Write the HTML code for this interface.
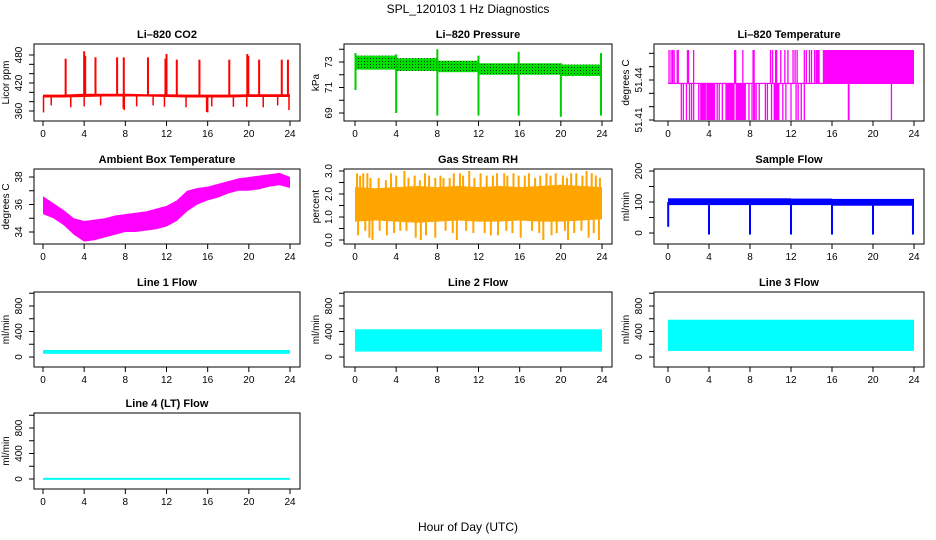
<!DOCTYPE html>
<html><head><meta charset="utf-8"><style>
html,body{margin:0;padding:0;background:#fff;}
svg{display:block;font-family:"Liberation Sans",sans-serif;}
</style></head><body>
<svg id="c" width="936" height="540" viewBox="0 0 936 540">
<defs>
<pattern id="pgreen" width="3" height="3" patternUnits="userSpaceOnUse"><rect width="3" height="3" fill="#00dd00"/><rect x="1" y="1" width="1" height="1" fill="#003300"/></pattern>
</defs>
<text x="468" y="13" text-anchor="middle" font-size="12">SPL_120103  1 Hz Diagnostics</text>
<text x="468" y="531" text-anchor="middle" font-size="12">Hour of Day (UTC)</text>
</svg>
<script>
// ---- data ----
const xTicks=[0,4,8,12,16,20,24];
const co2BaseT=[0,2,4,6,8,10,12,14,16,18,20,22,24];
const co2BaseLo=[389,389,390,391,391,391,390,389,389,389,390,390,390];
const co2BaseHi=[395,395,397,397,397,396,396,395,395,395,396,396,396];
const co2SpikeT=[2.2,4.0,4.1,5.1,7.2,7.85,10.2,11.9,12.0,13.0,15.2,18.1,19.85,19.95,21.0,23.2,23.8];
const co2SpikeV=[472,488,478,475,475,475,475,472,482,470,470,470,482,478,470,470,470];
const co2DipT=[0.05,0.8,2.7,4.0,5.6,7.8,7.9,9.1,10.7,11.8,13.9,15.9,16.0,16.4,18.5,19.8,21.4,22.8,23.9];
const co2DipV=[357,372,368,370,372,365,362,370,372,369,368,358,357,370,369,369,368,372,362];

const presPeriodT=[0,4,8,12,16,20,24];
const presLo=[72.4,72.3,72.2,72.0,72.0,71.9];
const presHi=[73.5,73.3,73.1,72.9,72.9,72.8];
const presDropT=[0.05,4.0,8.0,12.0,15.9,20.0,23.9];
const presDropV=[70.8,69.0,68.8,68.8,68.8,68.7,68.8];
const presUpV=[73.7,73.6,74.0,73.5,73.8,72.9,73.7];

const tempLow=51.41, tempMid=51.4375, tempHigh=51.4625;
const tempUpT=[0.1,0.3,0.45,0.6,0.9,1.0,1.9,2.0,2.5,6.5,6.6,7.3,8.3,8.4,10.0,10.2,10.5,10.6,11.0,11.4,11.7,12.2,12.4,12.6,13.3,13.5,13.8,14.0,14.3];
const tempDownT=[1.3,1.5,1.8,2.1,2.3,2.5,3.0,3.2,3.5,3.8,4.2,4.5,4.8,5.0,5.3,7.9,8.2,8.6,8.9,9.5,9.7,10.1,10.4,10.8,11.2,11.5,12.0,12.5,12.7,13.0,13.3,17.6,17.65,21.8];
const tempLowBlocks=[[3.2,3.7],[3.8,4.6],[5.6,6.5],[6.6,7.6],[8.3,8.5],[10.3,10.8]];
const tempHighBlocks=[[14.4,14.8],[15.1,24.0]];

const ambT=[0,1,2,3,4,5,6,7,8,9,10,11,12,13,14,15,16,17,18,19,20,21,22,23,24];
const ambLo=[35.3,35.0,34.5,33.8,33.3,33.4,33.6,33.8,34.0,34.0,34.1,34.2,34.4,34.8,35.5,36.0,36.3,36.5,36.8,37.0,37.0,37.1,37.3,37.4,37.2];
const ambHi=[36.6,36.1,35.6,35.0,34.8,34.9,35.0,35.2,35.3,35.4,35.5,35.7,35.9,36.3,37.0,37.2,37.3,37.5,37.7,37.9,38.0,38.1,38.2,38.3,38.0];

const rhT=[0,2,4,6,8,10,12,14,16,18,20,22,24];
const rhLo=[0.8,0.85,0.8,0.75,0.8,0.85,0.8,0.8,0.85,0.8,0.8,0.85,0.9];
const rhHi=[2.3,2.25,2.3,2.35,2.3,2.35,2.3,2.35,2.3,2.35,2.4,2.35,2.3];
const rhUpT=[0.2,0.5,0.8,1.2,1.5,2.3,3.0,3.5,4.0,4.8,5.2,5.8,6.3,6.8,7.2,7.8,8.3,8.6,9.2,9.6,10.2,10.5,11.1,11.6,12.2,12.8,13.4,13.8,14.5,14.8,15.4,15.9,16.5,16.9,17.5,18.0,18.6,19.0,19.5,20.2,20.6,21.0,21.5,22.1,22.5,23.0,23.4,23.8];
const rhUpV=[2.9,2.8,2.9,2.9,2.7,2.7,2.6,2.9,2.8,3.0,2.7,2.8,2.6,2.9,2.8,2.7,2.8,2.7,2.7,2.9,2.9,2.8,3.0,2.7,2.9,2.8,2.8,2.9,2.9,2.8,2.9,2.8,2.8,2.9,2.7,2.8,2.9,2.8,2.9,2.8,2.7,2.9,2.9,2.8,3.0,2.9,2.8,2.7];
const rhDnT=[0.3,1.0,1.4,1.7,2.4,3.1,3.8,4.4,5.0,5.9,6.4,6.9,7.8,8.8,9.5,9.9,10.8,11.5,12.6,13.2,13.9,14.7,15.3,16.1,17.2,17.9,18.3,19.1,19.6,20.4,20.7,21.3,22.0,22.7,23.2,23.7];
const rhDnV=[0.2,0.4,0.1,0.0,0.4,0.2,0.3,0.4,0.4,0.1,0.0,0.2,0.1,0.4,0.3,0.0,0.4,0.3,0.3,0.2,0.2,0.4,0.3,0.1,0.4,0.3,0.0,0.2,0.3,0.4,0.0,0.3,0.4,0.1,0.3,0.0];

const sfLo=[90,90,90,90,88,88,88];
const sfHi=[112,112,112,111,110,110,110];
const sfDropT=[0.02,4.0,8.0,12.0,16.0,20.0,23.9];
const sfDropV=[20,-5,-5,-5,-5,-5,-5];

const l1Lo=50, l1Hi=110;
const l2Lo=85, l2Hi=435;
const l3Lo=95, l3Hi=585;
const l4Lo=0, l4Hi=18;

// ---- helpers ----
const NS="http://www.w3.org/2000/svg";
const svg=document.getElementById('c');
function mk(tag,attrs,parent){const e=document.createElementNS(NS,tag);for(const k in attrs)e.setAttribute(k,attrs[k]);(parent||svg).appendChild(e);return e;}
function lin(v1,p1,v2,p2){return v=>p1+(v-v1)*(p2-p1)/(v2-v1);}
const cols=[{bx0:34,bx1:300,x0:43,x24:290},{bx0:344,bx1:612,x0:355,x24:602},{bx0:654,bx1:924,x0:668,x24:914}];
const rows=[{by0:44,by1:121},{by0:169,by1:244},{by0:292,by1:367},{by0:413,by1:489}];

function panel(name,title,ytitle,c,r,ya,yticks,ylabels,fmt){
  const C=cols[c],R=rows[r];
  const g=mk('g',{});
  
  
  const xs=lin(0,C.x0,24,C.x24);
  const t=mk('text',{x:(C.bx0+C.bx1)/2,y:R.by0-6,'text-anchor':'middle','font-size':'11','font-weight':'bold'},g);
  t.textContent=title;
  
  
  const plot=mk('g',{},g);
  
  
  const b=mk('rect',{x:C.bx0,y:R.by0,width:C.bx1-C.bx0,height:R.by1-R.by0,fill:'none',stroke:'#000','stroke-width':1},g);
  
  
  const xa=mk('g',{},g);
  
  
  xTicks.forEach(v=>{
    mk('line',{x1:xs(v),x2:xs(v),y1:R.by1,y2:R.by1+5,stroke:'#000'},xa);
    const tl=mk('text',{x:xs(v),y:R.by1+16,'text-anchor':'middle','font-size':'10'},xa);
    tl.textContent=v;
    
    
  });
  const yg=mk('g',{},g);
  
  
  yticks.forEach(v=>{mk('line',{x1:C.bx0-5,x2:C.bx0,y1:ya(v),y2:ya(v),stroke:'#000'},yg);});
  ylabels.forEach(v=>{
    const yy=ya(v),xx=C.bx0-12;
    const tl=mk('text',{x:xx,y:yy,'text-anchor':'middle','font-size':'10',transform:`rotate(-90 ${xx} ${yy})`},yg);
    tl.textContent=fmt?fmt(v):v;
    
    
  });
  const yx=C.bx0-25,ym=(R.by0+R.by1)/2;
  const yt=mk('text',{x:yx,y:ym,'text-anchor':'middle','font-size':'10',transform:`rotate(-90 ${yx} ${ym})`},g);
  yt.textContent=ytitle;
  
  
  g.insertBefore(b,plot.nextSibling);
  return {plot,xs,ya};
}
function vbar(p,x,y1,y2,fill,w){const a=Math.min(y1,y2),h=Math.abs(y2-y1);return mk('rect',{x:x-(w||1.5)/2,y:a,width:w||1.5,height:Math.max(h,1),fill:fill},p);}
function band(p,xs,ya,T,lo,hi,fill){
  let pts=T.map((t,i)=>xs(t)+','+ya(hi[i]));
  for(let i=T.length-1;i>=0;i--)pts.push(xs(T[i])+','+ya(lo[i]));
  return mk('polygon',{points:pts.join(' '),fill:fill},p);
}
function range(a,b,s){const o=[];for(let v=a;v<=b+1e-9;v+=s)o.push(+v.toFixed(4));return o;}

// ---- CO2 ----
{const P=panel('co2','Li\u2013820 CO2','Licor ppm',0,0,lin(480,55,360,111),range(360,480,20),[360,420,480]);
 band(P.plot,P.xs,P.ya,co2BaseT,co2BaseLo,co2BaseHi,'#ff0000');
 co2SpikeT.forEach((t,i)=>{const e=vbar(P.plot,P.xs(t),P.ya(392),P.ya(co2SpikeV[i]),'#ff0000',2);});
 co2DipT.forEach((t,i)=>{const e=vbar(P.plot,P.xs(t),P.ya(392),P.ya(co2DipV[i]),'#ff0000',1.5);});}

// ---- Pressure ----
{const P=panel('pressure','Li\u2013820 Pressure','kPa',1,0,lin(73,62,69,113),range(69,74,1),[69,71,73]);
 for(let i=0;i<presLo.length;i++){const x1=P.xs(presPeriodT[i]),x2=P.xs(presPeriodT[i+1]);
   const e=mk('rect',{x:x1,y:P.ya(presHi[i]),width:x2-x1,height:P.ya(presLo[i])-P.ya(presHi[i]),fill:'url(#pgreen)'},P.plot);
   }
 presDropT.forEach((t,i)=>{const e=vbar(P.plot,P.xs(t),P.ya(presUpV[i]),P.ya(presDropV[i]),'#00cc00',2);});}

// ---- Li-820 Temperature ----
{const P=panel('li820-temp','Li\u2013820 Temperature','degrees C',2,0,lin(51.41,120,51.44,80),range(51.41,51.46,0.01),[51.41,51.44],v=>v.toFixed(2));
 const c='#ff00ff';
 mk('rect',{x:P.xs(0),y:P.ya(tempMid)-0.5,width:P.xs(24)-P.xs(0),height:1.2,fill:c},P.plot);
 tempHighBlocks.forEach(b=>{const e=mk('rect',{x:P.xs(b[0]),y:P.ya(tempHigh),width:P.xs(b[1])-P.xs(b[0]),height:P.ya(tempMid)-P.ya(tempHigh),fill:c},P.plot);});
 tempLowBlocks.forEach(b=>{const e=mk('rect',{x:P.xs(b[0]),y:P.ya(tempMid),width:P.xs(b[1])-P.xs(b[0]),height:P.ya(tempLow)-P.ya(tempMid),fill:c},P.plot);});
 tempUpT.forEach(t=>{const e=vbar(P.plot,P.xs(t),P.ya(tempMid),P.ya(tempHigh),c,1.3);});
 tempDownT.forEach(t=>{const e=vbar(P.plot,P.xs(t),P.ya(tempMid),P.ya(tempLow),c,1.3);});}

// ---- Ambient ----
{const P=panel('ambient','Ambient Box Temperature','degrees C',0,1,lin(38,177,34,232),range(34,38,1),[34,36,38]);
 const e=band(P.plot,P.xs,P.ya,ambT,ambLo,ambHi,'#ff00ff');}

// ---- RH ----
{const P=panel('rh','Gas Stream RH','percent',1,1,lin(3,171,0,240),range(0,3,0.5),[0,1,2,3],v=>v.toFixed(1));
 const rc='#ffa500';
 const e=band(P.plot,P.xs,P.ya,rhT,rhLo,rhHi,rc);
 rhUpT.forEach((t,i)=>{const s=vbar(P.plot,P.xs(t),P.ya(2.2),P.ya(rhUpV[i]),rc,2);});
 rhDnT.forEach((t,i)=>{const s=vbar(P.plot,P.xs(t),P.ya(0.9),P.ya(rhDnV[i]),rc,2);});}

// ---- Sample flow ----
{const P=panel('sample-flow','Sample Flow','ml/min',2,1,lin(200,171,0,233),range(0,200,50),[0,100,200]);
 for(let i=0;i<sfLo.length-1;i++){const x1=P.xs(presPeriodT[i]),x2=P.xs(presPeriodT[i+1]);
   const e=mk('rect',{x:x1,y:P.ya(sfHi[i]),width:x2-x1,height:P.ya(sfLo[i])-P.ya(sfHi[i]),fill:'#0000ff'},P.plot);
   }
 sfDropT.forEach((t,i)=>{const e=vbar(P.plot,P.xs(t),P.ya(100),P.ya(sfDropV[i]),'#0000ff',2);});}

// ---- Line flows ----
function flow(name,title,c,r,lo,hi){
  const R=rows[r];const z=R.by1-10;
  const P=panel(name,title,'ml/min',c,r,lin(0,z,800,z-51),range(0,1000,200),[0,400,800]);
  const e=mk('rect',{x:P.xs(0),y:P.ya(hi),width:P.xs(24)-P.xs(0),height:Math.max(P.ya(lo)-P.ya(hi),2),fill:'#00ffff'},P.plot);
  
}
flow('line1-flow','Line 1 Flow',0,2,l1Lo,l1Hi);
flow('line2-flow','Line 2 Flow',1,2,l2Lo,l2Hi);
flow('line3-flow','Line 3 Flow',2,2,l3Lo,l3Hi);
flow('line4-flow','Line 4 (LT) Flow',0,3,l4Lo,l4Hi);
</script>
</body></html>
